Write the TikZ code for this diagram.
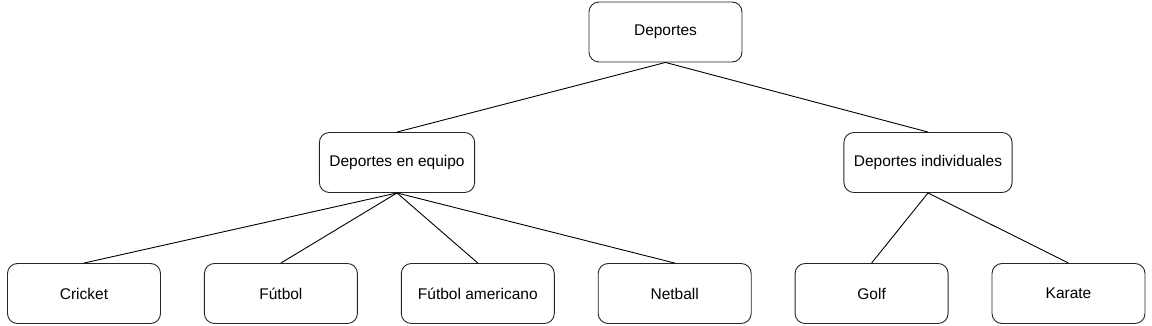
\documentclass[tikz,border=0pt]{standalone}
\usepackage{fontspec}
\setmainfont{Liberation Sans}
\usepackage{tikz}
\usetikzlibrary{positioning}
\tikzset{
  sbox/.style  ={draw=black!85, line width=0.9pt, rounded corners=10pt, align=center,
                 minimum width=153pt, minimum height=60pt, inner xsep=10pt,
                 font=\fontsize{15.5}{18}\selectfont},
  sline/.style ={line width=0.9pt, black},
}
\begin{document}
\begin{tikzpicture}[x=1pt, y=-1pt, node distance=43pt]
\useasboundingbox (0,0) rectangle (1152,326);

\node[sbox] (dep) at (665.5,32) {Deportes};

\node[sbox] (equipo) at (397,162.5) {Deportes en equipo};
\node[sbox] (indiv) at (928,162.5) {Deportes individuales};

\node[sbox] (cricket) at (84,293.5) {Cricket};
\node[sbox, right=of cricket] (futbol) {Fútbol};
\node[sbox, right=of futbol] (amer) {Fútbol americano};
\node[sbox, right=of amer] (netball) {Netball};
\node[sbox, right=of netball] (golf) {Golf};
\node[sbox, right=of golf] (karate) {Karate};

\draw[sline] (dep.south) -- (equipo.north);
\draw[sline] (dep.south) -- (indiv.north);

\draw[sline] (equipo.south) -- (cricket.north);
\draw[sline] (equipo.south) -- (futbol.north);
\draw[sline] (equipo.south) -- (amer.north);
\draw[sline] (equipo.south) -- (netball.north);

\draw[sline] (indiv.south) -- (golf.north);
\draw[sline] (indiv.south) -- (karate.north);

\end{tikzpicture}
\end{document}
